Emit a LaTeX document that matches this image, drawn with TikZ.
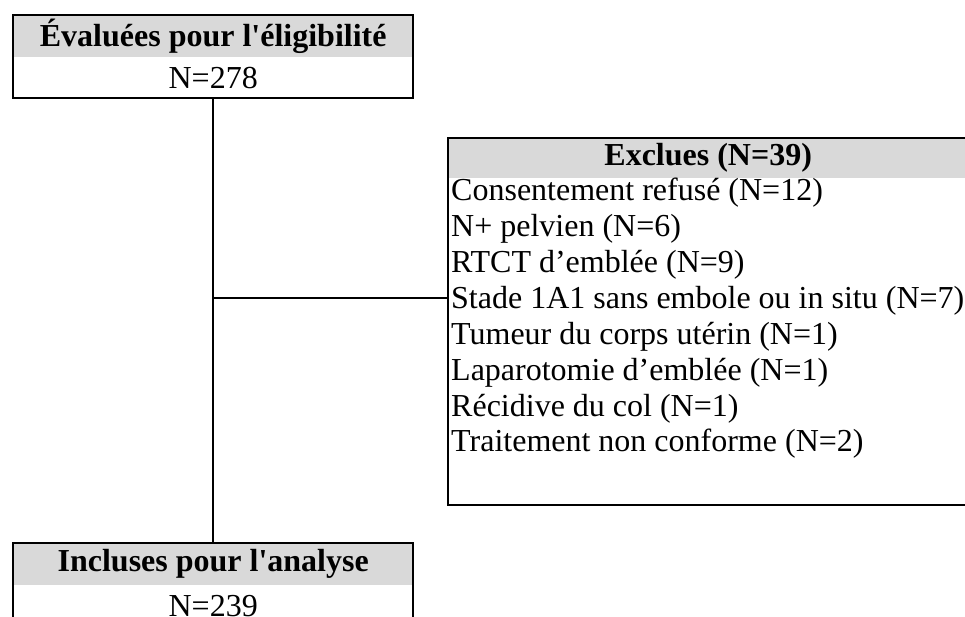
\documentclass[tikz,border=0pt]{standalone}
\usepackage{fontspec}
\setmainfont{Liberation Serif}[Ligatures=TeXOff]
\usetikzlibrary{positioning}
\definecolor{hdrgray}{RGB}{217,217,217}
\tikzset{
  hdr/.style={fill=hdrgray, inner sep=0pt, anchor=north west, font=\fontsize{32}{36}\selectfont\bfseries},
  cnt/.style={inner sep=0pt, font=\fontsize{32}{36}\selectfont},
  item/.style={inner sep=0pt, anchor=base west, font=\fontsize{32}{36}\selectfont},
  frame/.style={draw=black, line width=2.1pt},
  link/.style={draw=black, line width=2pt},
}
\begin{document}
\begin{tikzpicture}[x=1pt,y=1pt]
  \useasboundingbox (0,0) rectangle (965,-617);
  \clip (0,0) rectangle (965,-617);

  % top box
  \node[hdr, minimum width=400pt, minimum height=42pt] (evalhead) at (13,-15) {Évaluées pour l'éligibilité};
  \node[cnt, minimum width=400pt, minimum height=40pt, below=0pt of evalhead] (evaln) {N=278};
  \draw[frame] (evalhead.north west) rectangle (evaln.south east);

  % right box, runs past the page edge
  \node[hdr, minimum width=520pt, minimum height=40pt] (exclhead) at (448,-138) {Exclues (N=39)};
  \node[inner sep=0pt, minimum width=520pt, minimum height=326pt, below=0pt of exclhead] (excl) {};
  \draw[frame] (exclhead.north west) rectangle (excl.south east);

  \foreach \txt [count=\i] in {Consentement refusé (N=12), N+ pelvien (N=6), RTCT d’emblée (N=9),
      Stade 1A1 sans embole ou in situ (N=7), Tumeur du corps utérin (N=1),
      Laparotomie d’emblée (N=1), Récidive du col (N=1), Traitement non conforme (N=2)} {
    \node[item] (ex\i) at (451,{-200.6-35.9*(\i-1)}) {\txt};
  }

  % bottom box
  \node[hdr, minimum width=400pt, minimum height=42pt] (inclhead) at (13,-543) {Incluses pour l'analyse};
  \node[cnt, minimum width=400pt, minimum height=40pt, below=0pt of inclhead] (incln) {N=239};
  \draw[frame] (inclhead.north west) rectangle (incln.south east);

  % connectors
  \coordinate (split) at (213,-298);
  \draw[link] (evaln.south) -- (inclhead.north);
  \draw[link] (split) -- (split -| excl.west);
\end{tikzpicture}
\end{document}
